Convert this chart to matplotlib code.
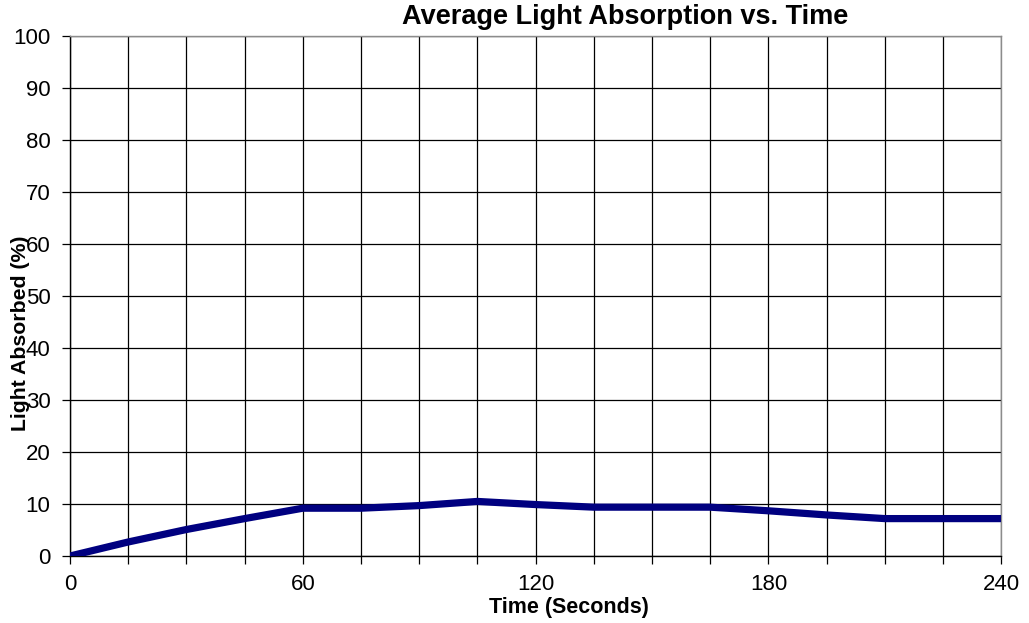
import numpy as np
import matplotlib
matplotlib.use("Agg")
import matplotlib.pyplot as plt
from matplotlib.ticker import MultipleLocator

# ── data ─────────────────────────────────────────────────────────────────────
time_s = [0, 15, 30, 45, 60, 75, 90, 105, 120, 135, 150, 165, 180, 195, 210, 225, 240]
absorbed = [0.0, 2.7, 5.1, 7.2, 9.2, 9.2, 9.7, 10.5, 9.9, 9.4, 9.4, 9.4, 8.7, 7.9, 7.2, 7.2, 7.2]

x_major = [0, 60, 120, 180, 240]
y_major = list(range(0, 101, 10))

plt.rcParams["font.family"] = ["Liberation Sans", "DejaVu Sans"]

fig = plt.figure(figsize=(10.29, 6.23), dpi=100)
ax = fig.add_axes([0.068, 0.1075, 0.905, 0.8345])

ax.plot(time_s, absorbed, color="#000080", lw=5.2, solid_capstyle="butt",
        solid_joinstyle="round", zorder=5)

ax.set_xlim(0, 240)
ax.set_ylim(0, 100)
ax.set_xticks(x_major)
ax.xaxis.set_minor_locator(MultipleLocator(15))
ax.set_yticks(y_major)

ax.grid(True, which="both", color="black", lw=0.9)
ax.tick_params(axis="both", which="both", direction="out", length=6,
               width=0.9, labelsize=16, color="black")
ax.tick_params(axis="x", pad=7)
ax.tick_params(axis="y", pad=8)

for sp in ax.spines.values():
    sp.set_linewidth(1.0)
ax.spines["right"].set_color("0.55")
ax.spines["top"].set_color("0.55")

fig.text(625 / 1029, 1 - 17 / 623, "Average Light Absorption vs. Time",
         ha="center", va="center", fontsize=19.5, fontweight="bold")
fig.text(569 / 1029, 1 - 608 / 623, "Time (Seconds)",
         ha="center", va="center", fontsize=15.5, fontweight="bold")
fig.text(21 / 1029, 1 - 333 / 623, "Light Absorbed (%)", rotation=90,
         ha="center", va="center", fontsize=15.3, fontweight="bold", zorder=10)

fig.savefig("out.png", dpi=100)
